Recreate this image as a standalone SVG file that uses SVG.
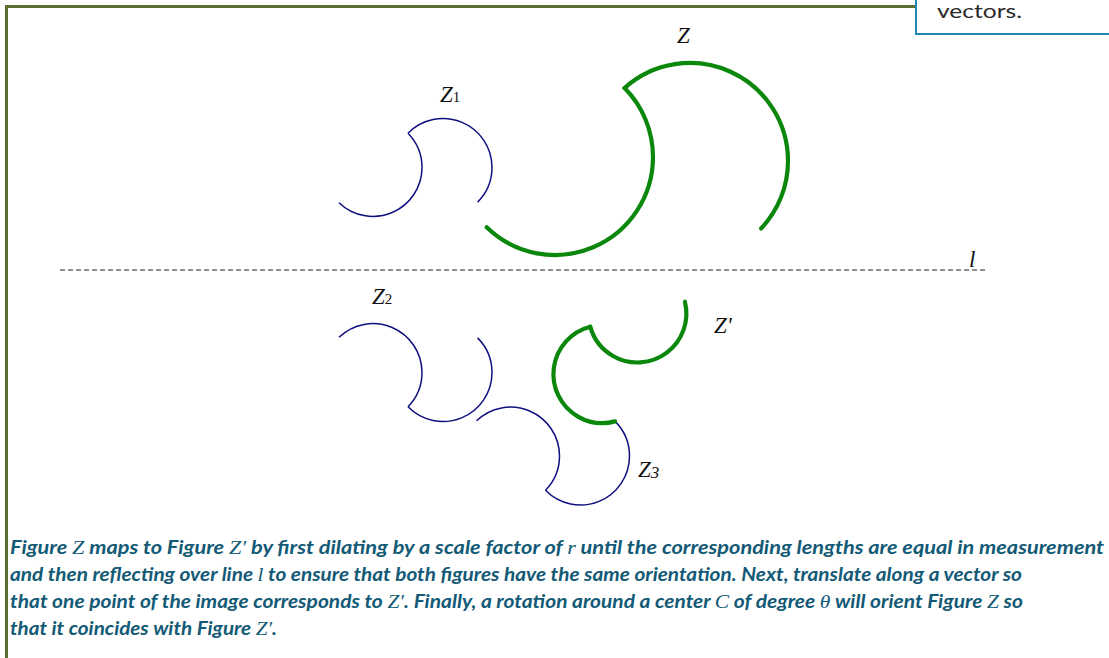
<svg xmlns="http://www.w3.org/2000/svg" width="1109" height="658" viewBox="0 0 1109 658">
<style>
.navy{fill:none;stroke:#101080;stroke-width:1.5;stroke-linecap:butt}
.green{fill:none;stroke:#0b870b;stroke-width:4.2;stroke-linecap:round;stroke-linejoin:miter}
.lbl{font-family:"Liberation Serif","Times New Roman",serif;font-style:italic;font-size:23px;fill:#111}
.sub{font-style:normal;font-size:15px}
.cap{font-family:Lato,"Open Sans",sans-serif;font-style:italic;font-weight:bold;font-size:18.5px;fill:#135a76}
.m{font-family:"Liberation Serif","Times New Roman",serif;font-style:italic;font-weight:normal;font-size:19px}
</style>
<rect x="0" y="0" width="1109" height="658" fill="#ffffff"/>
<g id="frame">
<polyline points="6.5,660 6.5,6.5 918,6.5" fill="none" stroke="#5b6e34" stroke-width="3"/>
</g>
<g id="callout">
<rect x="916" y="-10" width="200" height="44" fill="#ffffff" stroke="#2486b4" stroke-width="2"/>
<text x="937" y="17.5" font-family="Lato,'Open Sans',sans-serif" font-size="20" fill="#2a2a2a" textLength="85" lengthAdjust="spacingAndGlyphs">vectors.</text>
</g>
<g id="line-l">
<line x1="60" y1="270" x2="985" y2="270" stroke="#222" stroke-width="1" stroke-dasharray="5,3"/>
<text class="lbl" x="969" y="267">l</text>
</g>
<g id="fig-Z">
<path class="green" d="M 624.6,88 A 98 98 0 0 1 788,161 A 98 98 0 0 1 761.1,228.5"/>
<path class="green" d="M 624.6,88 A 98 98 0 0 1 653,157 A 98 98 0 0 1 486.7,227.3"/>
<text class="lbl" x="677" y="43">Z</text>
</g>
<g id="fig-Z1">
<path class="navy" d="M 408,133.2 A 49 49 0 0 1 492,167.5 A 49 49 0 0 1 477.6,202.1"/>
<path class="navy" d="M 408,133.2 A 49 49 0 0 1 422,167.5 A 49 49 0 0 1 339,202.7"/>
<text class="lbl" x="440" y="102">Z<tspan class="sub">1</tspan></text>
</g>
<g id="fig-Z2">
<g transform="matrix(1 0 0 -1 0 540)">
<path class="navy" d="M 408,133.2 A 49 49 0 0 1 492,167.5 A 49 49 0 0 1 477.6,202.1"/>
<path class="navy" d="M 408,133.2 A 49 49 0 0 1 422,167.5 A 49 49 0 0 1 339,202.7"/>
</g>
<text class="lbl" x="372" y="304">Z<tspan class="sub">2</tspan></text>
</g>
<g id="fig-Z3">
<g transform="translate(137.5 83.5) matrix(1 0 0 -1 0 540)">
<path class="navy" d="M 408,133.2 A 49 49 0 0 1 492,167.5 A 49 49 0 0 1 477.6,202.1"/>
<path class="navy" d="M 408,133.2 A 49 49 0 0 1 422,167.5 A 49 49 0 0 1 339,202.7"/>
</g>
<text class="lbl" x="638" y="477">Z<tspan font-size="17" dy="1">3</tspan></text>
</g>
<g id="fig-Zprime">
<g transform="rotate(120 615.1 421.4) translate(137.5 83.5) matrix(1 0 0 -1 0 540)">
<path class="green" d="M 408,133.2 A 49 49 0 0 1 492,167.5 A 49 49 0 0 1 477.6,202.1"/>
<path class="green" d="M 408,133.2 A 49 49 0 0 1 422,167.5 A 49 49 0 0 1 339,202.7"/>
</g>
<text class="lbl" x="714" y="333">Z'</text>
</g>
<g id="caption">
<text class="cap" x="10" y="554" textLength="1094" lengthAdjust="spacingAndGlyphs">Figure <tspan class="m">Z</tspan> maps to Figure <tspan class="m">Z′</tspan> by first dilating by a scale factor of <tspan class="m">r</tspan> until the corresponding lengths are equal in measurement</text>
<text class="cap" x="10" y="581" textLength="1012" lengthAdjust="spacingAndGlyphs">and then reflecting over line <tspan class="m">l</tspan> to ensure that both figures have the same orientation. Next, translate along a vector so</text>
<text class="cap" x="10" y="608" textLength="1013" lengthAdjust="spacingAndGlyphs">that one point of the image corresponds to <tspan class="m">Z′</tspan>.  Finally, a rotation around a center <tspan class="m">C</tspan> of degree <tspan class="m">θ</tspan> will orient Figure <tspan class="m">Z</tspan> so</text>
<text class="cap" x="10" y="635" textLength="267" lengthAdjust="spacingAndGlyphs">that it coincides with Figure <tspan class="m">Z′</tspan>.</text>
</g>
</svg>
